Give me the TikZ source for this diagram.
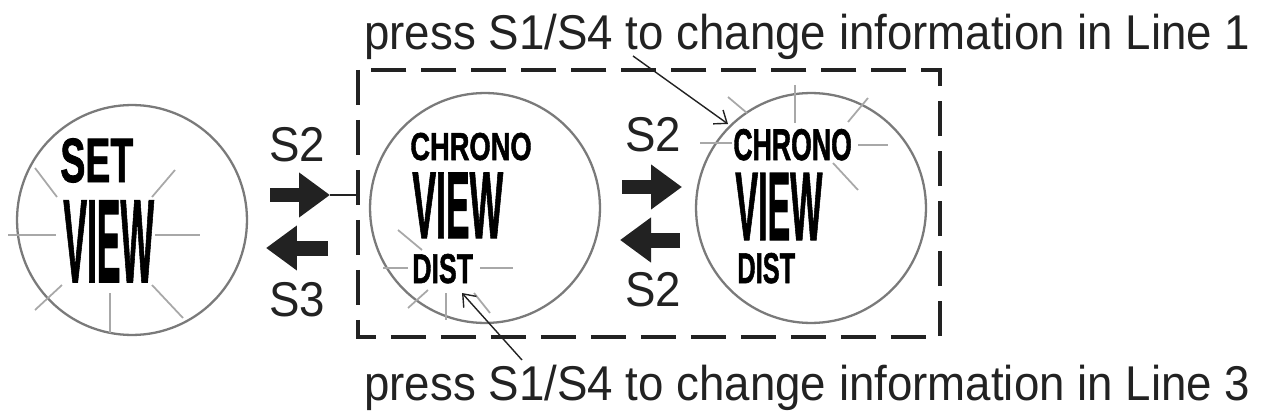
\documentclass[tikz,border=0pt]{standalone}
\usepackage{graphicx}
\usepackage{fontspec}
\setmainfont{Liberation Sans}
\newfontfamily\lcdfont{Liberation Sans}[BoldFeatures={FakeBold=1.5}]
\usetikzlibrary{arrows.meta}
\definecolor{ink}{HTML}{222222}
\definecolor{rim}{HTML}{7A7A7A}
\definecolor{glow}{HTML}{A8A8A8}
\newcommand{\lcd}[3]{\scalebox{#1}[1]{\lcdfont\bfseries\fontsize{#2}{#2}\selectfont #3}}
\newcommand{\keytext}[1]{\scalebox{0.935}[1]{#1}}

\begin{document}
\begin{tikzpicture}[x=0.02cm, y=-0.02cm,
    dial/.style={circle, draw=rim, line width=1.3pt, minimum size=4.6cm, inner sep=0pt},
    ray/.style={draw=glow, line width=1pt},
    lcdtxt/.style={anchor=base west, inner sep=0pt, text=black},
    key/.style={font=\fontsize{27.8}{28}\selectfont, text=ink, inner sep=0pt},
    push/.style={ink, line width=0.3cm, -{Triangle[length=0.62cm,width=0.86cm]}},
    note/.style={ink, line width=0.8pt, -{Straight Barb[length=2.2mm,width=3.4mm]}},
    grp/.style={draw=ink, line width=2pt, dash pattern=on 0.7cm off 0.3cm}
]
    \useasboundingbox (0,0) rectangle (1264,412);

    % Displays
    \node[dial] (dialset) at (132,220) {};
    \node[dial] (dialdist) at (485,208) {};
    \node[dial] (dialtop) at (811,208) {};

    % Flashing marks
    \draw[ray] (8,235) -- (56,235);
    \draw[ray] (155,235) -- (200,235);
    \draw[ray] (35,168) -- (57,197);
    \draw[ray] (175,170) -- (152,197);
    \draw[ray] (35,310) -- (62,285);
    \draw[ray] (110,293) -- (110,333);
    \draw[ray] (152,285) -- (183,318);

    \draw[ray] (383,268) -- (408,268);
    \draw[ray] (480,268) -- (513,268);
    \draw[ray] (398,230) -- (422,250);
    \draw[ray] (408,308) -- (428,290);
    \draw[ray] (446,293) -- (446,320);
    \draw[ray] (474,293) -- (490,313);

    \draw[ray] (700,143) -- (732,143);
    \draw[ray] (858,145) -- (888,145);
    \draw[ray] (728,97) -- (747,113);
    \draw[ray] (795,85) -- (795,123);
    \draw[ray] (868,98) -- (848,122);
    \draw[ray] (833,163) -- (858,190);

    % Display texts
    \node[lcdtxt] (set) at (60,182) {\lcd{0.6}{35.6}{SET}};
    \node[lcdtxt] (view1) at (63,282) {\lcd{0.30}{67.3}{VIEW}};
    \node[lcdtxt] (chrono2) at (410,160) {\lcd{0.70}{22.2}{CHRONO}};
    \node[lcdtxt] (view2) at (412,238) {\lcd{0.375}{53.9}{VIEW}};
    \node[lcdtxt] (dist2) at (412,283) {\lcd{0.64}{23.7}{DIST}};
    \node[lcdtxt] (chrono3) at (733,160) {\lcd{0.60}{25.3}{CHRONO}};
    \node[lcdtxt] (view3) at (735,240) {\lcd{0.35}{55.4}{VIEW}};
    \node[lcdtxt] (dist3) at (737,283) {\lcd{0.59}{24.5}{DIST}};

    % Group frame
    \coordinate (grpnw) at (358,70);
    \coordinate (grpse) at (940,337);
    \draw[grp] (grpnw) rectangle (grpse);

    % Buttons
    \coordinate (s2a) at (270,195);
    \coordinate (s2b) at (330,195);
    \coordinate (s3a) at (328,248);
    \coordinate (s3b) at (266,248);
    \coordinate (s2c) at (622,187);
    \coordinate (s2d) at (682,187);
    \coordinate (s2e) at (680,240);
    \coordinate (s2f) at (620,240);
    \draw[push] (s2a) -- (s2b);
    \draw[push] (s3a) -- (s3b);
    \draw[push] (s2c) -- (s2d);
    \draw[push] (s2e) -- (s2f);
    \draw[ink, line width=1pt] (s2b) -- (s2b -| grpnw);

    \node[key] (k2a) at (297,145) {\keytext{S2}};
    \node[key] (k3) at (297,300) {\keytext{S3}};
    \node[key] (k2b) at (653,135) {\keytext{S2}};
    \node[key] (k2c) at (653,290) {\keytext{S2}};

    % Notes
    \node[key, anchor=base west] (line1) at (364,50) {\keytext{press S1/S4 to change information in Line 1}};
    \node[key, anchor=base west] (line3) at (364,400) {\keytext{press S1/S4 to change information in Line 3}};
    \coordinate (n1a) at (633,56);
    \coordinate (n1b) at (728,124);
    \coordinate (n3a) at (522,360);
    \coordinate (n3b) at (462,293);
    \draw[note] (n1a) -- (n1b);
    \draw[note] (n3a) -- (n3b);

\end{tikzpicture}
\end{document}
